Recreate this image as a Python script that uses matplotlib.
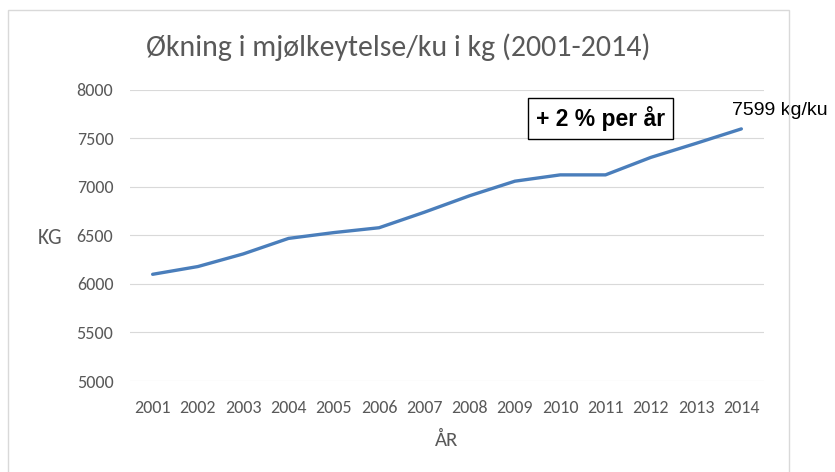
import matplotlib
matplotlib.use("Agg")
import matplotlib.pyplot as plt

# Data
years = [2001, 2002, 2003, 2004, 2005, 2006, 2007, 2008, 2009, 2010, 2011, 2012, 2013, 2014]
kg_per_cow = [6100, 6180, 6310, 6470, 6530, 6580, 6740, 6910, 7060, 7125, 7125, 7305, 7450, 7599]
yticks = [5000, 5500, 6000, 6500, 7000, 7500, 8000]

calibri = ['Carlito', 'DejaVu Sans']
arial = ['Liberation Sans', 'DejaVu Sans']
grey = '#595959'

fig = plt.figure(figsize=(8.35, 4.72), dpi=100)
ax = fig.add_axes([130 / 835, 1 - 381 / 472, 634 / 835, 291 / 472])

ax.plot(years, kg_per_cow, color='#4a7ebb', linewidth=2.4, solid_capstyle='round')

ax.set_xlim(years[0] - 0.5, years[-1] + 0.5)
ax.set_ylim(yticks[0], yticks[-1])
ax.set_xticks(years)
ax.set_yticks(yticks)
ax.set_xticklabels([str(y) for y in years], family=calibri, fontsize=13, color=grey)
ax.set_yticklabels([str(v) for v in yticks], family=calibri, fontsize=13, color=grey)
ax.tick_params(length=0)
ax.tick_params(axis='y', pad=12)
ax.tick_params(axis='x', pad=13.5)
ax.grid(axis='y', color='#d9d9d9', linewidth=0.8)
ax.set_axisbelow(True)
for s in ax.spines.values():
    s.set_visible(False)

# chart frame
fig.patches.append(plt.Rectangle((8 / 835, -0.01), 781 / 835, 1 - 10 / 472 + 0.01,
                                 transform=fig.transFigure, fill=False,
                                 edgecolor='#d9d9d9', linewidth=1))

fig.text(398 / 835, 1 - 47 / 472, 'Økning i mjølkeytelse/ku i kg (2001-2014)',
         family=calibri, fontsize=21.5, color=grey, ha='center', va='center')
fig.text(50 / 835, 1 - 238 / 472, 'KG', family=calibri, fontsize=15.5, color=grey,
         ha='center', va='center')
fig.text(447 / 835, 1 - 440 / 472, 'ÅR', family=calibri, fontsize=15, color=grey,
         ha='center', va='center')

ax.text(0.742, 0.903, '+ 2 % per år', transform=ax.transAxes, family=arial,
        fontsize=16.5, fontweight='bold', color='black', ha='center', va='center',
        bbox=dict(boxstyle='square,pad=0.35', facecolor='white', edgecolor='black', linewidth=1))
ax.annotate(f'{kg_per_cow[-1]} kg/ku', xy=(years[-1], kg_per_cow[-1]),
            xytext=(-7, 7), textcoords='offset points', family=arial,
            fontsize=14, color='black', ha='left', va='bottom', annotation_clip=False)

fig.savefig('out.png', dpi=100)
